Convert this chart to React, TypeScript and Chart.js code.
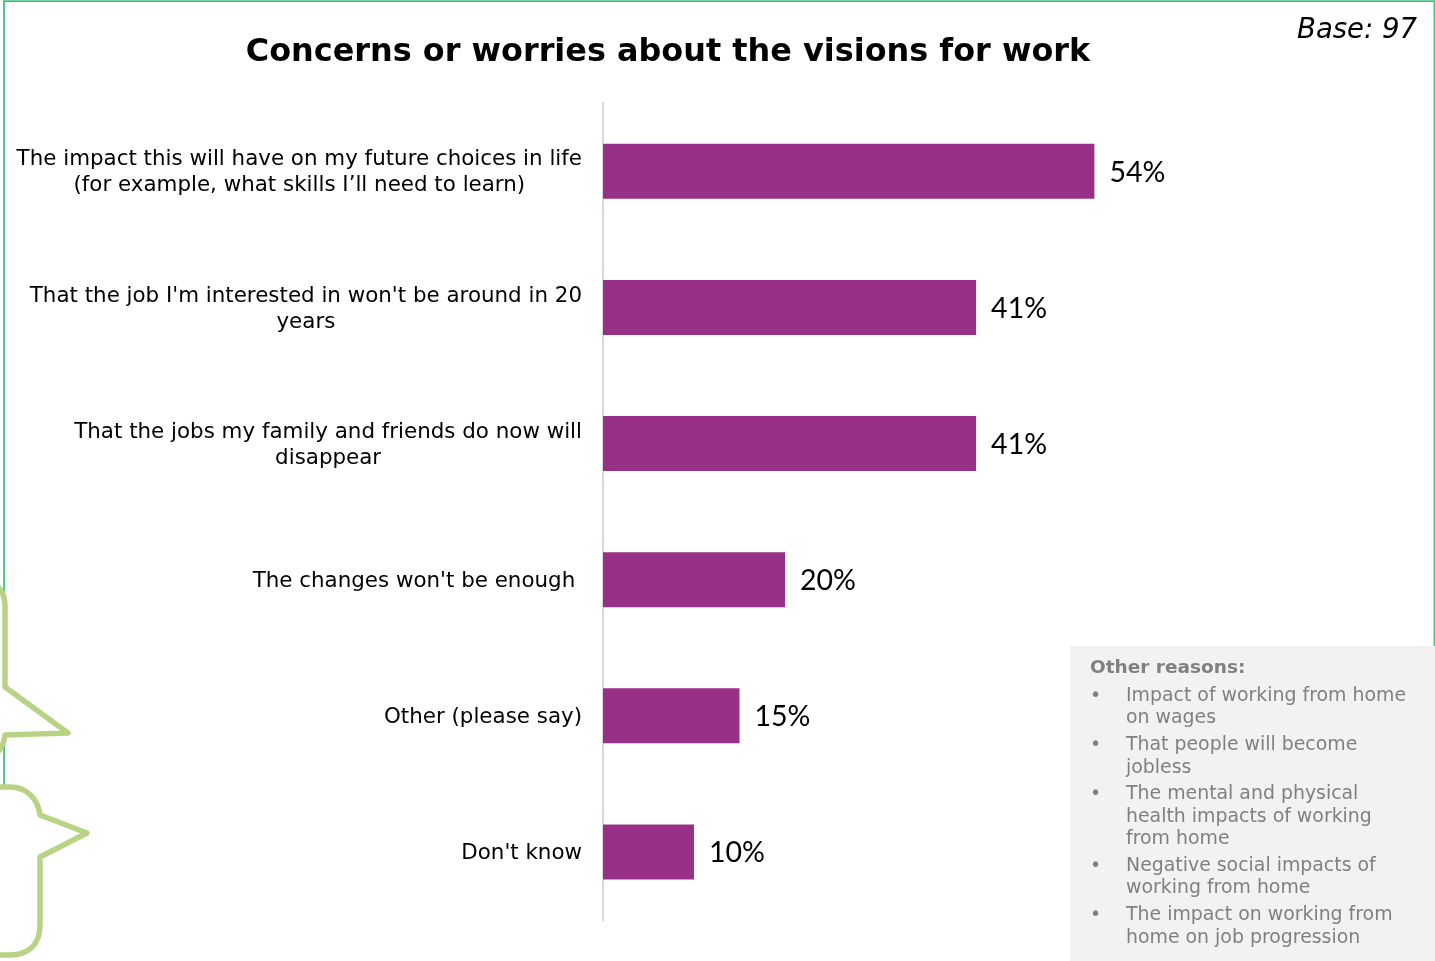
import React, { useEffect, useRef } from "react";
import { Chart, registerables } from "chart.js";

Chart.register(...registerables);

const categoryLines: string[][] = [
  ["The impact this will have on my future choices in life", "(for example, what skills I’ll need to learn)"],
  ["That the job I'm interested in won't be around in 20", "years"],
  ["That the jobs my family and friends do now will", "disappear"],
  ["The changes won't be enough "],
  ["Other (please say)"],
  ["Don't know"],
];
const shares = [54, 41, 41, 20, 15, 10];
const chartTitle = "Concerns or worries about the visions for work";
const baseNote = "Base: 97";
const otherHeading = "Other reasons:";
const otherReasons: string[][] = [
  ["Impact of working from home", "on wages"],
  ["That people will become", "jobless"],
  ["The mental and physical", "health impacts of working", "from home"],
  ["Negative social impacts of", "working from home"],
  ["The impact on working from", "home on job progression"],
];

const SANS = "'DejaVu Sans', Verdana, sans-serif";
const BAR_COLOR = "#993087";
const OUTLINE = "#b9d386";
const FRAME = "#3cc47c";

// Category labels: each block sits flush right, with its lines centred on one another.
const categoryLabelPlugin = {
  id: "categoryLabels",
  afterDraw(chart: any) {
    const { ctx, scales } = chart;
    const right = scales.y.right - 21;
    ctx.save();
    ctx.font = `21.4px ${SANS}`;
    ctx.fillStyle = "#000";
    ctx.textBaseline = "middle";
    ctx.textAlign = "center";
    categoryLines.forEach((lines, i) => {
      const widest = Math.max(...lines.map((l) => ctx.measureText(l).width));
      const cy = scales.y.getPixelForValue(i);
      lines.forEach((line, j) => {
        ctx.fillText(line, right - widest / 2, cy + 1.5 + (j - (lines.length - 1) / 2) * 26);
      });
    });
    ctx.restore();
  },
};

// Percentage labels just past the end of each bar.
const valueLabelPlugin = {
  id: "valueLabels",
  afterDatasetsDraw(chart: any) {
    const { ctx } = chart;
    ctx.save();
    ctx.font = "28.5px Lato, sans-serif";
    ctx.fillStyle = "#000";
    ctx.textBaseline = "middle";
    ctx.textAlign = "left";
    chart.getDatasetMeta(0).data.forEach((bar: any, i: number) => {
      ctx.fillText(`${shares[i]}%`, bar.x + 15, bar.y + 1);
    });
    ctx.restore();
  },
};

export default function App() {
  const canvasRef = useRef<HTMLCanvasElement>(null);

  useEffect(() => {
    const chart = new Chart(canvasRef.current!, {
      type: "bar",
      data: {
        labels: categoryLines.map((l) => l.join(" ")),
        datasets: [
          {
            data: shares,
            backgroundColor: BAR_COLOR,
            categoryPercentage: 1,
            barPercentage: 0.404,
          },
        ],
      },
      options: {
        indexAxis: "y",
        animation: false,
        responsive: false,
        layout: { padding: { left: 5, right: 104, top: 0, bottom: 41 } },
        plugins: {
          legend: { display: false },
          tooltip: { enabled: false },
          title: {
            display: true,
            text: chartTitle,
            color: "#000",
            font: { family: SANS, size: 31.9, weight: "bold", lineHeight: 1.2 },
            padding: { top: 34, bottom: 31 },
          },
        },
        scales: {
          x: {
            min: 0,
            max: 80,
            display: false,
            grid: { display: false },
          },
          y: {
            grid: { display: false, drawTicks: false },
            border: { display: true, color: "#d9d9d9", width: 2 },
            ticks: { display: false },
            afterFit: (scale: any) => {
              scale.width = 598;
            },
          },
        },
      },
      plugins: [categoryLabelPlugin, valueLabelPlugin],
    } as any);
    return () => chart.destroy();
  }, []);

  return (
    <div style={{ position: "absolute", left: 0, top: 0, width: 1435, height: 961, overflow: "hidden", background: "#fff" }}>
      <canvas ref={canvasRef} width={1435} height={961} style={{ position: "absolute", left: 0, top: 0 }} />
      <svg width={1435} height={961} style={{ position: "absolute", left: 0, top: 0 }}>
        <path d="M4 787 V2 M3 1.2 H1434.5 V646" fill="none" stroke={FRAME} strokeWidth={1.8} />
        <path
          d="M-2 587 Q5 594 5 605 V687 L68 733 L5 735 Q4 745 -2 752"
          fill="#fff"
          stroke={OUTLINE}
          strokeWidth={5.5}
          strokeLinejoin="round"
        />
        <path
          d="M-2 787 H10 C28 787 38 800 40 815 L87 833 L40 857 V925 C40 945 28 955 10 955 H-2"
          fill="#fff"
          stroke={OUTLINE}
          strokeWidth={5.5}
          strokeLinejoin="round"
        />
      </svg>
      <div
        style={{
          position: "absolute",
          right: 18,
          top: 12,
          fontFamily: SANS,
          fontStyle: "italic",
          fontSize: 27.5,
          lineHeight: "32px",
          color: "#000",
        }}
      >
        {baseNote}
      </div>
      <div
        style={{
          position: "absolute",
          left: 1070,
          top: 646,
          width: 365,
          height: 315,
          background: "#f2f2f2",
          color: "#808080",
          fontFamily: SANS,
          fontSize: 18.9,
          lineHeight: "22.4px",
        }}
      >
        <div style={{ position: "absolute", left: 20, top: 10, fontWeight: "bold", fontSize: 18.5 }}>{otherHeading}</div>
        <div style={{ position: "absolute", left: 0, top: 37 }}>
          {otherReasons.map((lines, i) => (
            <div key={i} style={{ position: "relative", paddingLeft: 56, marginBottom: 4.4, whiteSpace: "nowrap" }}>
              <span style={{ position: "absolute", left: 20 }}>•</span>
              {lines.map((line, j) => (
                <div key={j}>{line}</div>
              ))}
            </div>
          ))}
        </div>
      </div>
    </div>
  );
}
